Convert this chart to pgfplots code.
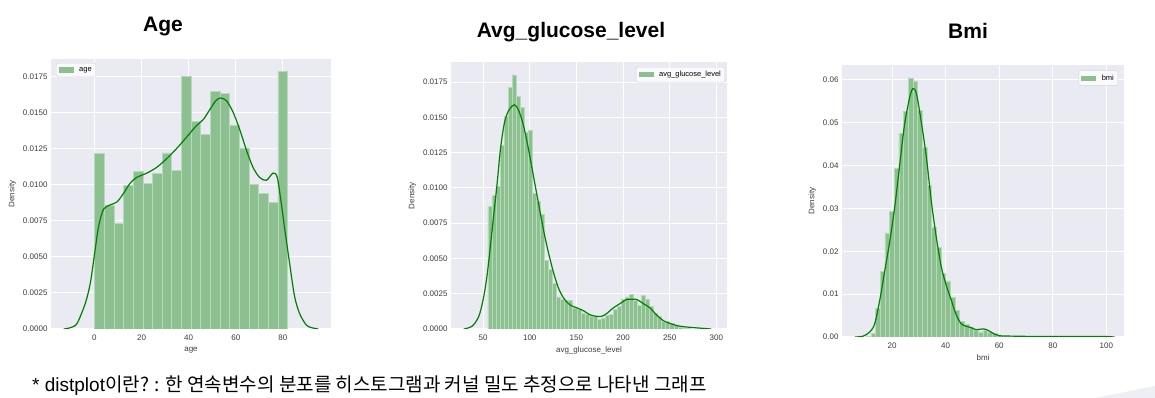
\documentclass[border=0pt]{standalone}
\usepackage{fontspec}
\setmainfont{Liberation Sans}
\newfontfamily\cjk{Noto Sans CJK KR}
\usepackage{pgfplots}
\pgfplotsset{compat=1.18}
\definecolor{seabg}{HTML}{EAEAF2}
\definecolor{barfill}{HTML}{8CC091}
\definecolor{baredge}{HTML}{B8DABB}
\definecolor{kde}{HTML}{008000}
\definecolor{tickgray}{HTML}{3C3C3C}
\definecolor{leggray}{HTML}{D4D4D8}

\pgfplotsset{
  sea/.style={
    scale only axis,
    anchor=south west,
    axis background/.style={fill=seabg},
    axis line style={draw=none},
    major tick length=0pt,
    tick style={draw=none},
    grid=major,
    major grid style={white, line width=1pt},
    ymin=0,
    tick label style={font=\fontsize{8}{9}\selectfont, text=tickgray},
    label style={font=\fontsize{8}{9}\selectfont, text=tickgray},
    /pgf/number format/assume math mode=true,
    scaled y ticks=false,
    scaled x ticks=false,
    xticklabel style={yshift=-2pt},
    ylabel=Density,
    legend cell align=left,
    legend style={font=\fontsize{7.5}{9}\selectfont, draw=leggray, fill=white,
      fill opacity=0.8, text opacity=1, rounded corners=2pt, inner sep=2.4pt,
      nodes={inner sep=1.6pt}},
  },
  hist/.style={ybar interval, fill=barfill, draw=baredge, line width=0.6pt,
    legend image code/.code={\fill[draw=none, fill=barfill, fill opacity=1, sharp corners] (0pt,-2.6pt) rectangle (15pt,2.6pt);
      \path[draw=none, fill=none] (0pt,0pt) -- (19pt,0pt);}},
  kdeline/.style={kde, line width=1.2pt, smooth, forget plot, mark=none},
}

\begin{document}
\begin{tikzpicture}
\path[use as bounding box] (0,0) rectangle (1155pt,398pt);
\fill[seabg!80] (1095pt,0pt) .. controls (1120pt,5pt) .. (1155pt,12pt) -- (1155pt,0pt) -- cycle;

% ---------------- Age ----------------
\begin{axis}[sea, at={(51pt,69pt)}, width=280pt, height=270pt,
  xmin=-18.4, xmax=100.4, ymax=0.0187,
  xtick={0,20,40,60,80},
  ytick={0,0.0025,0.005,0.0075,0.01,0.0125,0.015,0.0175},
  yticklabel style={/pgf/number format/fixed, /pgf/number format/fixed zerofill, /pgf/number format/precision=4},
  xlabel=age,
  legend style={at={(0.018,0.985)}, anchor=north west}]
\addplot[hist] coordinates {
(0.08,0.01214) (4.176,0.00854) (8.272,0.00730) (12.368,0.00993) (16.464,0.01090)
(20.56,0.01007) (24.656,0.01080) (28.752,0.01219) (32.848,0.01099) (36.944,0.01750)
(41.04,0.01436) (45.136,0.01348) (49.232,0.01646) (53.328,0.01634) (57.424,0.01413)
(61.52,0.01254) (65.616,0.01002) (69.712,0.00937) (73.808,0.00877) (77.904,0.01782)
(82.0,0.01782)};
\addlegendentry{age}
\addplot[kdeline] coordinates {
(-13,0) (-10,0.0001) (-7.3,0.0004) (-3.8,0.0018) (-1.7,0.0032) (0,0.0051) (1.8,0.0071)
(3.9,0.0083) (6.8,0.0086) (9.6,0.0088) (12.4,0.0094) (15.2,0.0101) (18.0,0.0105)
(22.3,0.0108) (26.5,0.0112) (30.7,0.0118) (34.9,0.0125) (39.2,0.0133) (43.4,0.0141)
(46.2,0.0145) (49.0,0.0152) (51.5,0.0158) (53.5,0.0160) (56.1,0.0158) (58.9,0.0150)
(61.7,0.0138) (64.5,0.0124) (67.3,0.0112) (70.1,0.0105) (73.0,0.0103) (75.8,0.0108)
(77.6,0.0105) (79.3,0.0087) (80.7,0.0070) (82.8,0.0046) (84.9,0.0023) (87.0,0.0011)
(89.8,0.0003) (92,0.0001) (95,0)};
\end{axis}

% ---------------- Avg glucose level ----------------
\begin{axis}[sea, at={(451pt,69pt)}, width=276pt, height=266.5pt,
  xmin=15.6, xmax=311.4, ymax=0.0189,
  xtick={50,100,150,200,250,300},
  ytick={0,0.0025,0.005,0.0075,0.01,0.0125,0.015,0.0175},
  yticklabel style={/pgf/number format/fixed, /pgf/number format/fixed zerofill, /pgf/number format/precision=4},
  xlabel=avg\_glucose\_level,
  legend style={at={(0.993,0.983)}, anchor=north east}]
\addplot[hist] coordinates {
(55.12,0.00869) (59.45,0.00945) (63.78,0.01015) (68.12,0.01306) (72.45,0.01507)
(76.78,0.01715) (81.11,0.01802) (85.45,0.01648) (89.78,0.01573) (94.11,0.01393)
(98.44,0.01408) (102.78,0.00959) (107.11,0.00905) (111.44,0.00810) (115.77,0.00487)
(120.11,0.00420) (124.44,0.00326) (128.77,0.00227) (133.10,0.00208) (137.44,0.00203)
(141.77,0.00203) (146.10,0.00149) (150.43,0.00137) (154.77,0.00113) (159.10,0.00106)
(163.43,0.00090) (167.76,0.00090) (172.09,0.00066) (176.43,0.00078) (180.76,0.00094)
(185.09,0.00102) (189.42,0.00137) (193.76,0.00161) (198.09,0.00213) (202.42,0.00227)
(206.75,0.00248) (211.09,0.00203) (215.42,0.00165) (219.75,0.00239) (224.08,0.00213)
(228.42,0.00161) (232.75,0.00113) (237.08,0.00090) (241.41,0.00054) (245.75,0.00054)
(250.08,0.00038) (254.41,0.00024) (258.74,0.00014) (263.08,0.00007) (267.41,0.00004)
(271.74,0.00004)};
\addlegendentry{avg\_glucose\_level}
\addplot[kdeline] coordinates {
(29.3,0) (38.2,0.0002) (45.4,0.0009) (50.7,0.0023) (55,0.0042) (59.6,0.0070) (65,0.0103)
(68.5,0.0127) (72.8,0.0146) (77.4,0.0155) (83.5,0.0159) (88.1,0.0155) (93.4,0.0144)
(98.8,0.0127) (104.1,0.0108) (109.4,0.0089) (114.8,0.0070) (120.1,0.0054) (125.5,0.0040)
(130.8,0.0029) (136.2,0.0022) (143.3,0.0017) (150.4,0.0015) (157.5,0.0013) (164.7,0.0010)
(171.8,0.0009) (177.1,0.0009) (182.5,0.0011) (189.6,0.0015) (196.7,0.0018) (203.9,0.0021)
(209.2,0.0021) (214.5,0.0021) (221.7,0.0018) (228.8,0.0015) (235.9,0.0010) (243.0,0.0006)
(250.1,0.0004) (260.8,0.0002) (275.1,0.0001) (294.7,0)};
\end{axis}

% ---------------- BMI ----------------
\begin{axis}[sea, at={(842pt,61pt)}, width=282pt, height=272pt,
  xmin=1.3, xmax=106.6, ymax=0.0635,
  xtick={20,40,60,80,100},
  ytick={0,0.01,0.02,0.03,0.04,0.05,0.06},
  yticklabel style={/pgf/number format/fixed, /pgf/number format/fixed zerofill, /pgf/number format/precision=2},
  xlabel=bmi,
  legend style={at={(0.979,0.98)}, anchor=north east}]
\addplot[hist] coordinates {
(10.30,0.0002) (12.05,0.0009) (13.79,0.0066) (15.54,0.0154) (17.28,0.0243)
(19.03,0.0293) (20.78,0.0393) (22.52,0.0476) (24.27,0.0527) (26.01,0.0605)
(27.76,0.0598) (29.51,0.0529) (31.25,0.0442) (33.00,0.0354) (34.74,0.0257)
(36.49,0.0210) (38.24,0.0149) (39.98,0.0131) (41.73,0.0092) (43.47,0.0062)
(45.22,0.0037) (46.97,0.0030) (48.71,0.0023) (50.46,0.0016) (52.20,0.0012)
(53.95,0.0016) (55.70,0.0012) (57.44,0.0008) (59.19,0.0003) (60.93,0.0002)
(62.68,0.0002) (64.43,0.0001) (66.17,0.0001) (67.92,0.0001) (69.66,0.0001)
(71.41,0.0000) (73.16,0.0001) (74.90,0.0000) (76.65,0.0000) (78.39,0.0001)
(80.14,0.0000) (81.89,0.0000) (83.63,0.0000) (85.38,0.0000) (87.12,0.0000)
(88.87,0.0000) (90.62,0.0001) (92.36,0.0000) (94.11,0.0000) (95.85,0.0001)
(97.60,0.0001)};
\addlegendentry{bmi}
\addplot[kdeline] coordinates {
(6.1,0) (9.2,0.0002) (11.7,0.0012) (13.5,0.0031) (15.4,0.0086) (17.3,0.0156) (19.1,0.0222)
(21.0,0.0304) (22.9,0.0405) (24.7,0.0498) (26.6,0.0560) (27.8,0.0580) (29.1,0.0568)
(30.9,0.0502) (32.8,0.0420) (34.6,0.0319) (36.5,0.0233) (38.4,0.0163) (40.2,0.0121)
(42.1,0.0086) (44.0,0.0051) (45.8,0.0031) (47.7,0.0025) (49.5,0.0022) (51.4,0.0017)
(53.9,0.0019) (55.7,0.0016) (57.6,0.0009) (60.1,0.0003) (65.1,0.0002) (77.4,0.0001)
(99.8,0.0001) (101.8,0)};
\end{axis}

% ---------------- titles and caption ----------------
\node[anchor=base, inner sep=0, font=\bfseries\fontsize{21}{24}\selectfont] at (163pt,366pt) {Age};
\node[anchor=base, inner sep=0, font=\bfseries\fontsize{21}{24}\selectfont] at (571pt,360pt) {Avg\_glucose\_level};
\node[anchor=base, inner sep=0, font=\bfseries\fontsize{21}{24}\selectfont] at (968pt,359pt) {Bmi};
\node[anchor=base west, inner sep=0, font=\fontsize{19}{21}\selectfont] at (32pt,6pt)
  {* distplot{\cjk 이란? : 한 연속변수의 분포를 히스토그램과 커널 밀도 추정으로 나타낸 그래프}};
\end{tikzpicture}
\end{document}
